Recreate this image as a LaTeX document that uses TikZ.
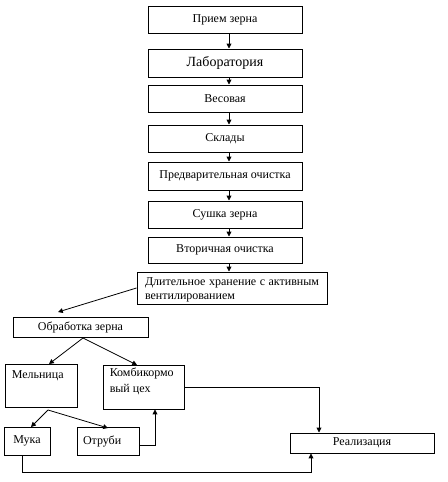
\documentclass[tikz,border=0pt]{standalone}
\usepackage{fontspec}
\setmainfont{Liberation Serif}
\usetikzlibrary{arrows.meta,calc}
\begin{document}
\begin{tikzpicture}[x=0.75pt,y=-0.75pt,
  box/.style={draw, line width=0.75pt, inner sep=0pt, font=\fontsize{9}{10.5}\selectfont},
  sz/.style 2 args={minimum width=#1*0.75pt, minimum height=#2*0.75pt},
  lbl/.style={anchor=north west, inner sep=0pt, align=left, font=\fontsize{9}{12}\selectfont},
  arr/.style={-{Triangle[length=3.6pt,width=3.6pt]}, line width=0.6pt},
  ln/.style={line width=0.6pt}]
\useasboundingbox (0,0) rectangle (448,482);
\node[box, sz={154}{27}] (priem) at (225,19.5) {Прием зерна};
\node[box, sz={154}{28}, font=\fontsize{10.5}{12}\selectfont] (lab) at (225,63) {Лаборатория};
\node[box, sz={154}{27}] (ves) at (225,98.5) {Весовая};
\node[box, sz={154}{27}] (sklad) at (225,138.5) {Склады};
\node[box, sz={154}{28}] (pred) at (225,176) {Предварительная очистка};
\node[box, sz={154}{27}] (sush) at (225,214.5) {Сушка зерна};
\node[box, sz={154}{26}] (vtor) at (225,250) {Вторичная очистка};
\node[box, sz={190}{32}] (dlit) at (232,288) {};
\node[inner sep=0pt, text width=174*0.75pt, align=justify, font=\fontsize{9}{10.5}\selectfont] (dlittext) at (232,290) {Длительное хранение с активным вентилированием};
\node[box, sz={135}{20}] (obr) at (80.5,327) {Обработка зерна};
\node[box, sz={72}{43}, label={[lbl, xshift=7*0.75pt, yshift=-7*0.75pt]north west:Мельница}] (mel) at (41,385.5) {};
\node[box, sz={81}{44}, label={[lbl, xshift=7*0.75pt, yshift=-3*0.75pt]north west:Комбикормо\\вый цех}] (komb) at (143.5,387) {};
\node[box, sz={46}{28}] (muka) at (27,441) {Мука};
\node[box, sz={62}{28}, text width=50*0.75pt, align=left] (otr) at (108,441) {Отруби};
\node[box, sz={144}{20}] (real) at (362,443) {Реализация};

\foreach \a/\b in {priem/lab, lab/ves, ves/sklad, sklad/pred, pred/sush, sush/vtor, vtor/dlit}
  \draw[arr] ([xshift=4*0.75pt]\a.south) -- ([xshift=4*0.75pt]\a.south |- \b.north);

\coordinate (obrin) at (58,312);
\draw[arr] (dlit.west) -- (obrin);
\coordinate (obrout) at (83,338);
\coordinate (melin) at (49,364);
\draw[arr] (obrout) -- (melin);
\coordinate (kombin) at (137,365);
\draw[arr] (obrout) -- (kombin);
\coordinate (melout) at (48,410);
\coordinate (mukain) at (31,427);
\draw[arr] (melout) -- (mukain);
\coordinate (otrin) at (108,428);
\draw[arr] (melout) -- (otrin);
\coordinate (otrturn) at (155,445);
\draw[arr] (otr.east |- otrturn) -- (otrturn) -- (otrturn |- komb.south);
\coordinate (kombturn) at (319,387);
\draw[arr] (komb.east |- kombturn) -- (kombturn) -- (kombturn |- real.north);
\coordinate (mukaturn) at (22,472);
\coordinate (realturn) at (311,472);
\draw[arr] (mukaturn |- muka.south) -- (mukaturn) -- (realturn) -- (realturn |- real.south);
\end{tikzpicture}
\end{document}
